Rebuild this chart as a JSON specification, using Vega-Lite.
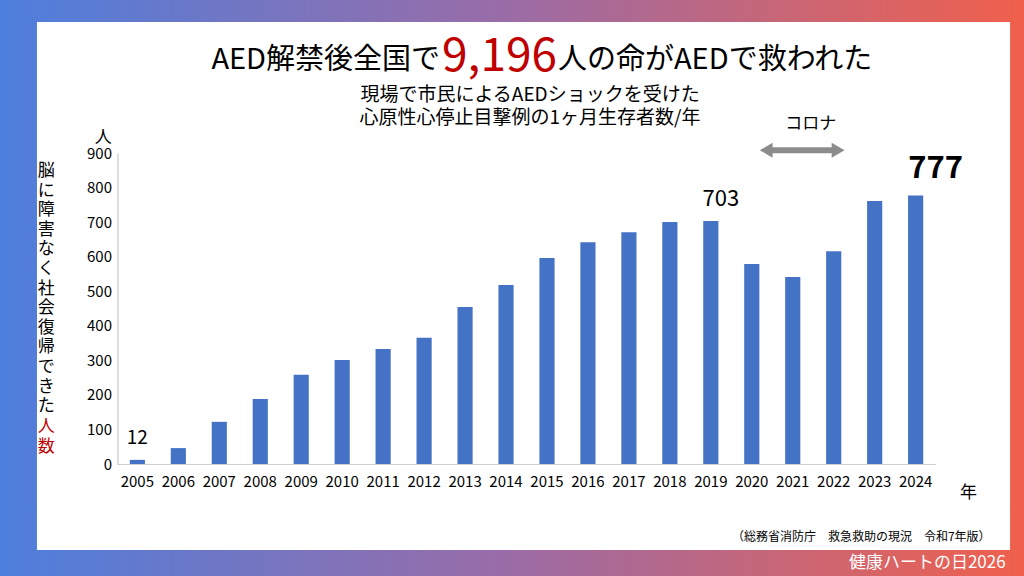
{
  "$schema": "https://vega.github.io/schema/vega-lite/v6.json",
  "width": 1024,
  "height": 576,
  "autosize": "none",
  "padding": 0,
  "background": "#9a6ca8",
  "config": {
    "font": "Noto Sans CJK JP",
    "view": {
      "stroke": null,
      "fill": {"gradient": "linear", "x1": 0, "x2": 1, "y1": 0, "y2": 0,
        "stops": [{"offset": 0, "color": "#4d7fdd"}, {"offset": 0.5, "color": "#9b6ca6"}, {"offset": 1, "color": "#f0604c"}]}
    }
  },
  "data": {
    "values": [
      {"year": "2005", "n": 12}, {"year": "2006", "n": 46}, {"year": "2007", "n": 122},
      {"year": "2008", "n": 188}, {"year": "2009", "n": 258}, {"year": "2010", "n": 301},
      {"year": "2011", "n": 333}, {"year": "2012", "n": 365}, {"year": "2013", "n": 454},
      {"year": "2014", "n": 518}, {"year": "2015", "n": 596}, {"year": "2016", "n": 642},
      {"year": "2017", "n": 671}, {"year": "2018", "n": 700}, {"year": "2019", "n": 703},
      {"year": "2020", "n": 579}, {"year": "2021", "n": 541}, {"year": "2022", "n": 616},
      {"year": "2023", "n": 761}, {"year": "2024", "n": 777}
    ]
  },
  "encoding": {
    "x": {"field": "year", "type": "nominal",
      "scale": {"type": "band", "range": [117.5, 935.5], "paddingInner": 0.63, "paddingOuter": 0.3},
      "axis": {"title": "年", "offset": -112, "zindex": 1, "labelAngle": 0, "labelAlign": "center", "labelBaseline": "top",
        "labelFontSize": 15, "labelColor": "#000", "domainColor": "#d0d0d0", "ticks": false, "labelPadding": 10,
        "titleFontSize": 17, "titleFontWeight": "normal", "titleX": 968, "titleY": 28, "titleAlign": "center", "titleBaseline": "middle"}},
    "y": {"type": "quantitative", "scale": {"domain": [0, 900], "range": [464, 153], "nice": false, "zero": false},
      "axis": {"title": null, "offset": -117.5, "zindex": 1, "values": [0,100,200,300,400,500,600,700,800,900],
        "labelFontSize": 15, "labelColor": "#000", "domainColor": "#bfbfbf", "ticks": false, "grid": false, "labelPadding": 6}}
  },
  "layer": [
    {
      "data": {"values": [{}]},
      "mark": {"type": "rect", "color": "white", "clip": false},
      "encoding": {
        "x": {"datum": "2024"}, "x2": {"datum": "2005"},
        "xOffset": {"value": 102}, "x2Offset": {"value": -92.8},
        "y": {"datum": 1279}, "y2": {"datum": -249}
      }
    },
    {
      "data": {"values": [{}]},
      "mark": {"type": "rect", "color": "white", "clip": false},
      "encoding": {
        "x": {"datum": "2005"}, "x2": {"datum": "2024"},
        "xOffset": {"value": -92.8},
        "y": {"datum": 1279}, "y2": {"datum": -249}
      }
    },
    {
      "mark": {"type": "bar", "color": "#4472c4"},
      "encoding": {"y": {"field": "n"}, "x": {"field": "year"}}
    },
    {
      "transform": [{"filter": "datum.year == '2005'"}],
      "mark": {"type": "text", "fontSize": 19, "dy": -12, "baseline": "bottom"},
      "encoding": {"y": {"field": "n"}, "text": {"field": "n"}}
    },
    {
      "transform": [{"filter": "datum.year == '2019'"}],
      "mark": {"type": "text", "fontSize": 22, "dx": 10, "dy": -10, "baseline": "bottom"},
      "encoding": {"y": {"field": "n"}, "text": {"field": "n"}}
    },
    {
      "transform": [{"filter": "datum.year == '2024'"}],
      "mark": {"type": "text", "fontSize": 31, "fontWeight": "bold", "dx": 20, "dy": -11, "baseline": "bottom"},
      "encoding": {"y": {"field": "n"}, "text": {"field": "n"}}
    },
    {
      "data": {"values": [{}]},
      "mark": {"type": "rule", "color": "#8c8c8c", "strokeWidth": 6},
      "encoding": {"x": {"datum": "2020"}, "x2": {"datum": "2022"}, "xOffset": {"value": 23}, "x2Offset": {"value": 11}, "y": {"datum": 908}}
    },
    {
      "data": {"values": [{}]},
      "mark": {"type": "point", "shape": "triangle-left", "filled": true, "color": "#8c8c8c", "size": 220, "opacity": 1},
      "encoding": {"x": {"datum": "2020"}, "xOffset": {"value": 22}, "y": {"datum": 908}}
    },
    {
      "data": {"values": [{}]},
      "mark": {"type": "point", "shape": "triangle-right", "filled": true, "color": "#8c8c8c", "size": 220, "opacity": 1},
      "encoding": {"x": {"datum": "2022"}, "xOffset": {"value": 12}, "y": {"datum": 908}}
    },
    {
      "data": {"values": [{}]},
      "mark": {"type": "text", "fontSize": 17, "dx": 18, "baseline": "middle"},
      "encoding": {"x": {"datum": "2021"}, "y": {"datum": 984}, "text": {"value": "コロナ"}}
    },
    {
      "data": {"values": [{}]},
      "mark": {"type": "text", "fontSize": 17, "dx": -34, "baseline": "middle"},
      "encoding": {"x": {"datum": "2005"}, "y": {"datum": 943}, "text": {"value": "人"}}
    },
    {
      "data": {"values": [{}]},
      "mark": {"type": "text", "fontSize": 17, "dx": -91, "baseline": "top", "lineHeight": 19.6},
      "encoding": {"x": {"datum": "2005"}, "y": {"datum": 871},
        "text": {"value": ["脳","に","障","害","な","く","社","会","復","帰","で","き","た"]}}
    },
    {
      "data": {"values": [{}]},
      "mark": {"type": "text", "fontSize": 17, "dx": -91, "baseline": "top", "lineHeight": 19.6, "color": "#c00000"},
      "encoding": {"x": {"datum": "2005"}, "y": {"datum": 130}, "text": {"value": ["人","数"]}}
    },
    {
      "data": {"values": [{}]},
      "mark": {"type": "text", "fontSize": 29, "dx": -25, "align": "right", "baseline": "middle"},
      "encoding": {"x": {"datum": "2013"}, "y": {"datum": 1169}, "text": {"value": "AED解禁後全国で"}}
    },
    {
      "data": {"values": [{}]},
      "mark": {"type": "text", "fontSize": 46, "dx": -23, "align": "left", "baseline": "middle", "color": "#c00000"},
      "encoding": {"x": {"datum": "2013"}, "y": {"datum": 1177}, "text": {"value": "9,196"}}
    },
    {
      "data": {"values": [{}]},
      "mark": {"type": "text", "fontSize": 29, "dx": 11, "align": "left", "baseline": "middle"},
      "encoding": {"x": {"datum": "2015"}, "y": {"datum": 1169}, "text": {"value": "人の命がAEDで救われた"}}
    },
    {
      "data": {"values": [{}]},
      "mark": {"type": "text", "fontSize": 19, "dx": 24, "baseline": "middle"},
      "encoding": {"x": {"datum": "2014"}, "y": {"datum": 1068}, "text": {"value": "現場で市民によるAEDショックを受けた"}}
    },
    {
      "data": {"values": [{}]},
      "mark": {"type": "text", "fontSize": 19, "dx": 24, "baseline": "middle"},
      "encoding": {"x": {"datum": "2014"}, "y": {"datum": 1001}, "text": {"value": "心原性心停止目撃例の1ヶ月生存者数/年"}}
    },
    {
      "data": {"values": [{}]},
      "mark": {"type": "text", "fontSize": 12, "dx": 75, "align": "right", "baseline": "middle"},
      "encoding": {"x": {"datum": "2024"}, "y": {"datum": -211}, "text": {"value": "（総務省消防庁　救急救助の現況　令和7年版）"}}
    },
    {
      "data": {"values": [{}]},
      "mark": {"type": "text", "fontSize": 17, "dx": 90, "align": "right", "baseline": "middle", "color": "white"},
      "encoding": {"x": {"datum": "2024"}, "y": {"datum": -286}, "text": {"value": "健康ハートの日2026"}}
    }
  ]
}
